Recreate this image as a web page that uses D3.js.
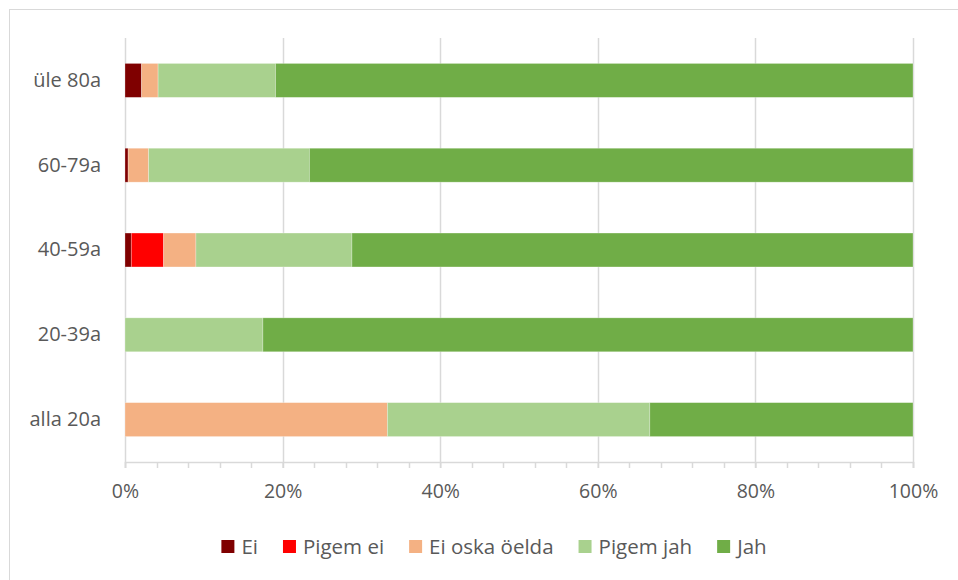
<!DOCTYPE html>
<html>
<head>
<meta charset="utf-8">
<script src="https://cdn.jsdelivr.net/npm/d3@7"></script>
<style>
  body { margin: 0; background: #fff; }
  text { font-family: "Open Sans", Lato, sans-serif; fill: #595959; }
</style>
</head>
<body>
<div id="chart"></div>
<script>
// values, percent per age group
var categories = ["üle 80a", "60-79a", "40-59a", "20-39a", "alla 20a"];
var seriesNames = ["Ei", "Pigem ei", "Ei oska öelda", "Pigem jah", "Jah"];
var ei       = [2.1, 0.4, 0.8, 0, 0];
var pigemEi  = [0, 0, 4.1, 0, 0];
var eiOska   = [2.1, 2.6, 4.1, 0, 33.3];
var pigemJah = [14.9, 20.4, 19.8, 17.5, 33.3];
var jah      = [80.9, 76.6, 71.2, 82.5, 33.4];
var tickLabels = ["0%", "20%", "40%", "60%", "80%", "100%"];
var colors = ["#7f0000", "#ff0000", "#f4b183", "#a9d18e", "#70ad47"];

var W = 958, H = 580;
var margin = {top: 38, right: 45, bottom: 118, left: 125};
var width = W - margin.left - margin.right;
var height = H - margin.top - margin.bottom;

// build rows for stacking
var rows = categories.map(function(c, i) {
  return {cat: c, "Ei": ei[i], "Pigem ei": pigemEi[i], "Ei oska öelda": eiOska[i],
          "Pigem jah": pigemJah[i], "Jah": jah[i]};
});
var stacked = d3.stack().keys(seriesNames).offset(d3.stackOffsetExpand)(rows);

var x = d3.scaleLinear().domain([0, 1]).range([0, width]);
var y = d3.scaleBand().domain(categories).range([0, height]).paddingInner(0.6).paddingOuter(0.3);
var color = d3.scaleOrdinal().domain(seriesNames).range(colors);

var svg = d3.select("#chart").append("svg")
  .attr("width", W).attr("height", H);

// chart frame
svg.append("rect")
  .attr("x", 9.5).attr("y", 9.5)
  .attr("width", W + 20).attr("height", H + 20)
  .attr("fill", "none").attr("stroke", "#d9d9d9");

var g = svg.append("g")
  .attr("transform", "translate(" + margin.left + "," + margin.top + ")");

var majors = d3.range(0, 1.0001, 0.2);
var minors = d3.range(0, 1.0001, 0.04);

// gridlines
g.selectAll(".grid").data(majors).enter().append("line")
  .attr("class", "grid")
  .attr("x1", function(d) { return Math.round(x(d)) + 0.5; })
  .attr("x2", function(d) { return Math.round(x(d)) + 0.5; })
  .attr("y1", 0).attr("y2", height)
  .attr("stroke", "#d9d9d9").attr("stroke-width", 1.5);

// bars
var layer = g.selectAll(".layer").data(stacked).enter().append("g")
  .attr("class", "layer")
  .attr("fill", function(d) { return color(d.key); });

layer.selectAll("rect").data(function(d) { return d; }).enter().append("rect")
  .attr("x", function(d) { return x(d[0]); })
  .attr("y", function(d) { return y(d.data.cat); })
  .attr("width", function(d) { return x(d[1]) - x(d[0]); })
  .attr("height", y.bandwidth())
  .attr("stroke", "#ffffff").attr("stroke-opacity", 0.35).attr("stroke-width", 0.75);

// minor ticks
g.selectAll(".minor").data(minors).enter().append("line")
  .attr("class", "minor")
  .attr("x1", function(d) { return Math.round(x(d)) + 0.5; })
  .attr("x2", function(d) { return Math.round(x(d)) + 0.5; })
  .attr("y1", height).attr("y2", height + 6)
  .attr("stroke", "#d9d9d9").attr("stroke-width", 1.5);

// x axis
var xAxis = g.append("g")
  .attr("class", "x-axis")
  .attr("transform", "translate(0," + height + ")")
  .call(d3.axisBottom(x).tickValues(majors).tickSize(6).tickPadding(16)
    .tickFormat(function(d, i) { return tickLabels[i]; }));
xAxis.select(".domain").attr("stroke", "#d9d9d9").attr("stroke-width", 1.5);
xAxis.selectAll(".tick line").attr("stroke", "#d9d9d9").attr("stroke-width", 1.5);
xAxis.selectAll(".tick text").style("font-size", "19.5px").attr("fill", "#595959");

// y axis labels
var yAxis = g.append("g")
  .attr("class", "y-axis")
  .call(d3.axisLeft(y).tickSize(0).tickPadding(24));
yAxis.select(".domain").remove();
yAxis.selectAll(".tick text").style("font-size", "20px").attr("fill", "#595959");

// legend
var legend = svg.append("g").attr("class", "legend");
var lx = 0;
seriesNames.forEach(function(name, i) {
  var item = legend.append("g").attr("transform", "translate(" + lx + ",0)");
  item.append("rect")
    .attr("x", 0).attr("y", -7).attr("width", 13).attr("height", 13)
    .attr("fill", colors[i]);
  var t = item.append("text")
    .attr("x", 20).attr("y", 0).attr("dy", "0.35em")
    .style("font-size", "20.5px")
    .text(name);
  lx += 20 + t.node().getComputedTextLength() + 25;
});
var legendW = lx - 25;
legend.attr("transform", "translate(" + (494 - legendW / 2) + ",547)");
</script>
</body>
</html>
